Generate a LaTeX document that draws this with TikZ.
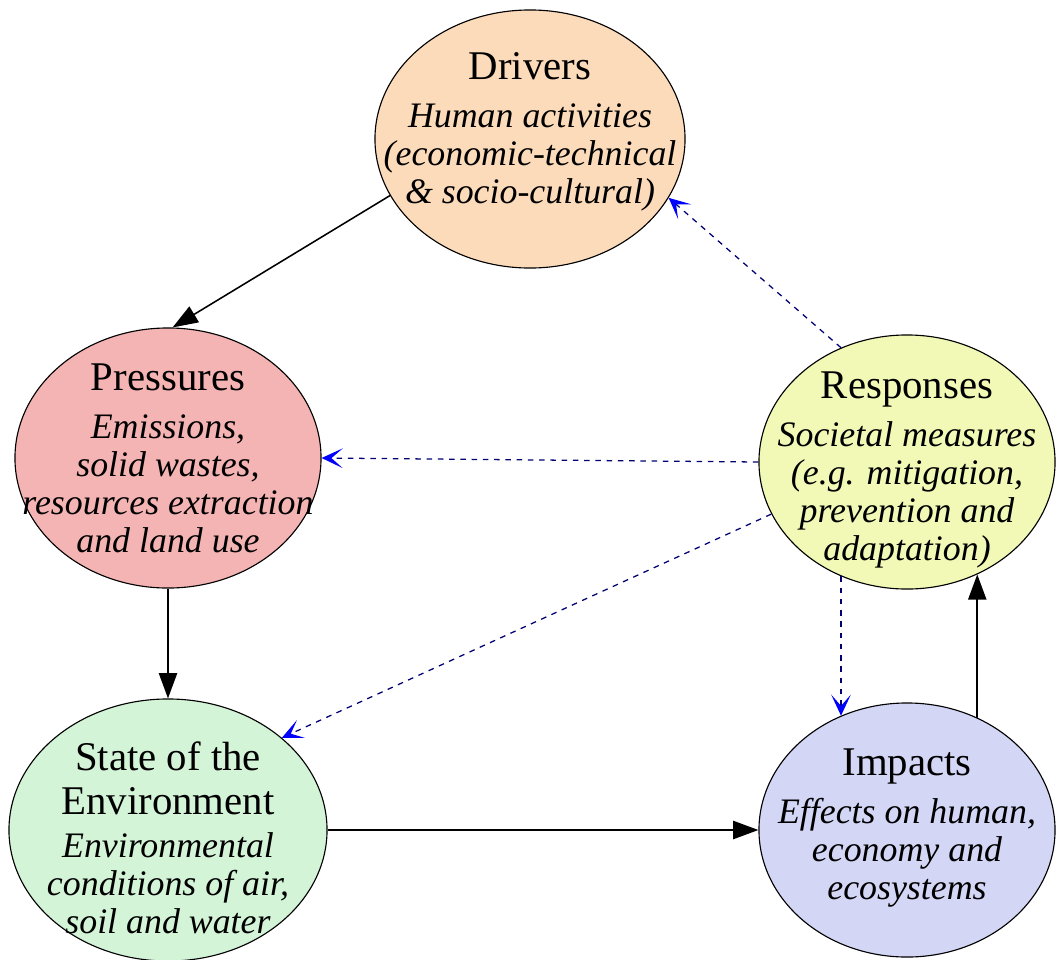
\documentclass[tikz,border=0pt]{standalone}
\usepackage{fontspec}
\setmainfont{Liberation Serif}
\usetikzlibrary{shapes.geometric,arrows.meta}

\definecolor{driverfill}{RGB}{252,219,186}
\definecolor{pressurefill}{RGB}{245,180,180}
\definecolor{responsefill}{RGB}{242,248,182}
\definecolor{statefill}{RGB}{212,244,216}
\definecolor{impactfill}{RGB}{212,214,246}

\newcommand{\stagetitle}[1]{{\upshape\fontsize{29}{29}\selectfont #1}}

\begin{document}
\begin{tikzpicture}[x=0.025cm,y=-0.025cm,
    stage/.style={ellipse,draw=black,line width=0.8pt,inner sep=0pt},
    stagetext/.style={align=center,inner sep=0pt,font=\fontsize{25.5}{27}\selectfont\itshape},
    flow/.style={-{Triangle[length=18pt,width=13pt]},line width=1.1pt},
    feedback/.style={-{Stealth[length=15pt,width=14pt,inset=8pt,color=blue]},
        draw=blue!45!black,line width=0.9pt,dash pattern=on 4pt off 4pt}]
    \useasboundingbox (0,0) rectangle (1056,959);

    % the five stages
    \node [stage,fill=driverfill,minimum width=7.75cm,minimum height=6.45cm] (drivers) at (530,139) {};
    \node [stage,fill=pressurefill,minimum width=7.65cm,minimum height=6.5cm] (pressures) at (168,458) {};
    \node [stage,fill=responsefill,minimum width=7.4cm,minimum height=6.35cm] (responses) at (907,462) {};
    \node [stage,fill=statefill,minimum width=7.95cm,minimum height=6.55cm] (state) at (168,830) {};
    \node [stage,fill=impactfill,minimum width=7.4cm,minimum height=6.35cm] (impacts) at (907,830) {};

    \node [stagetext] (drivers-text) at (530,132) {\stagetitle{Drivers}\\[7pt]
        Human activities\\(economic-technical\\\& socio-cultural)};
    \node [stagetext] (pressures-text) at (168,458) {\stagetitle{Pressures}\\[7pt]
        Emissions,\\solid wastes,\\resources extraction\\and land use};
    \node [stagetext] (responses-text) at (907,470) {\stagetitle{Responses}\\[7pt]
        Societal measures\\(e.g. mitigation,\\prevention and\\adaptation)};
    \node [stagetext] (state-text) at (168,838) {\stagetitle{State of the}\\[4pt]
        \stagetitle{Environment}\\[4pt]
        Environmental\\conditions of air,\\soil and water};
    \node [stagetext] (impacts-text) at (907,828) {\stagetitle{Impacts}\\[7pt]
        Effects on human,\\economy and\\ecosystems};

    % causal chain
    \draw [flow] (drivers.202) -- (pressures.88);
    \draw [flow] (pressures.south) -- (state.north);
    \draw [flow] (state.east) -- (impacts.west);
    \draw [flow] (impacts.58) -- (responses.-58);

    % responses feed back
    \draw [feedback] (responses.120) -- (drivers.-23);
    \draw [feedback] (responses.west) -- (pressures.east);
    \draw [feedback] (responses.201) -- (state.39);
    \draw [feedback] (responses.240) -- (impacts.120);
\end{tikzpicture}
\end{document}
